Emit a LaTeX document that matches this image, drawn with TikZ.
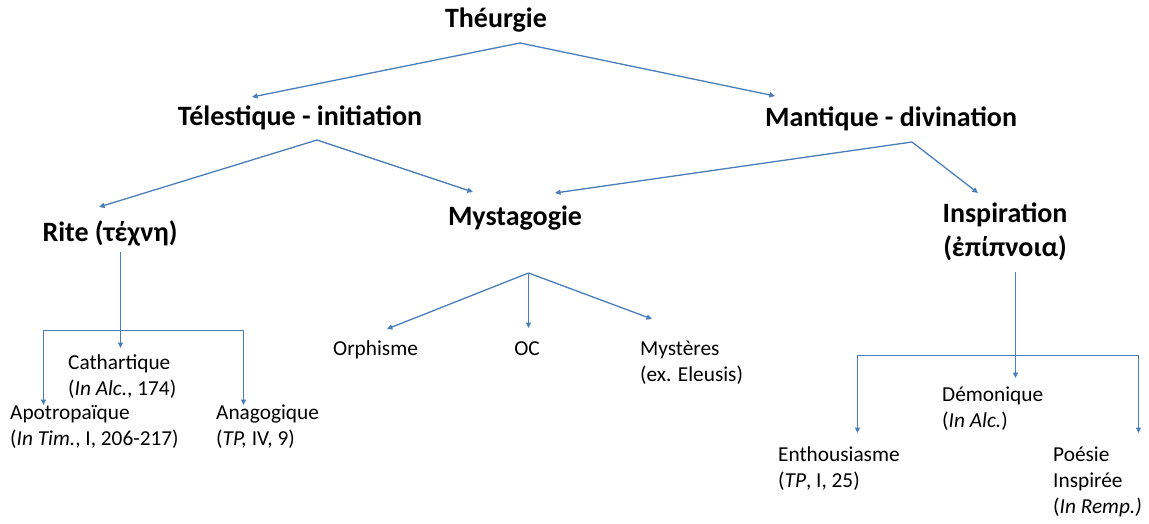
\documentclass[tikz,border=0pt]{standalone}
\usepackage{fontspec}
\setmainfont{Carlito}
\usetikzlibrary{arrows.meta}
\definecolor{conn}{RGB}{74,126,187}
\begin{document}
\begin{tikzpicture}[x=1pt,y=-1pt,
  head/.style={font=\fontsize{28}{34}\selectfont\bfseries, inner sep=0pt, align=center},
  leaf/.style={font=\fontsize{21.3}{26}\selectfont, inner sep=0pt, align=left, anchor=north west},
  link/.style={draw=conn, line width=1.3pt, -{Triangle[length=5.5pt,width=5pt]}},
  link2/.style={draw=conn, line width=1.3pt, {Triangle[length=5.5pt,width=5pt]}-{Triangle[length=5.5pt,width=5pt]}}]
\useasboundingbox (0,0) rectangle (1149,523);
\fill[white] (0,0) rectangle (1149,523);
% headings
\node[head] (th) at (496,20) {Théurgie};
\node[head] (tel) at (300,118) {Télestique - initiation};
\node[head] (man) at (891,119) {Mantique - divination};
\node[head] (rite) at (110,233) {Rite (τέχνη)};
\node[head] (myst) at (515,218) {Mystagogie};
\node[head] (insp) at (1005,232) {Inspiration\\(ἐπίπνοια)};
% leaves
\node[leaf] (cath) at (68,355) {Cathartique\\(\textit{In Alc.}, 174)};
\node[leaf] (apo) at (10,405) {Apotropaïque\\(\textit{In Tim.}, I, 206-217)};
\node[leaf] (ana) at (216,405) {Anagogique\\(\textit{TP,} IV, 9)};
\node[leaf] (orph) at (333,341) {Orphisme};
\node[leaf, anchor=north] (oc) at (527,341) {OC};
\node[leaf] (mys) at (640,341) {Mystères\\(ex. Eleusis)};
\node[leaf] (demo) at (942,387) {Démonique\\(\textit{In Alc.})};
\node[leaf] (enth) at (778,447) {Enthousiasme\\(\textit{TP}, I, 25)};
\node[leaf] (poes) at (1053,447) {Poésie\\Inspirée\\(\textit{In Remp.)}};
% connector points
\coordinate (thB) at (520,43);
\coordinate (telTip) at (252,97);
\coordinate (manTip) at (775,96);
\coordinate (telB) at (317,140);
\coordinate (riteTip) at (99,207);
\coordinate (mystTipL) at (473,192);
\coordinate (manB) at (912,142);
\coordinate (mystTipR) at (555,193);
\coordinate (inspTip) at (978,193);
\coordinate (riteB) at (120.5,252);
\coordinate (cathTip) at (120.5,348);
\coordinate (riteBar) at (120.5,330.5);
\coordinate (apoTip) at (43.5,405);
\coordinate (anaTip) at (243.5,405);
\coordinate (mystB) at (528.5,273);
\coordinate (orphTip) at (387,329);
\coordinate (ocTip) at (528.5,328);
\coordinate (mysTip) at (652,319);
\coordinate (inspB) at (1015.5,272);
\coordinate (demoTip) at (1015.5,378);
\coordinate (inspBar) at (1015.5,355.5);
\coordinate (enthTip) at (857.5,433);
\coordinate (poesTip) at (1138.5,433);
% connectors
\draw[link] (thB) -- (telTip);
\draw[link] (thB) -- (manTip);
\draw[link] (telB) -- (riteTip);
\draw[link] (telB) -- (mystTipL);
\draw[link] (manB) -- (mystTipR);
\draw[link] (manB) -- (inspTip);
\draw[link] (riteB) -- (cathTip);
\draw[link2] (apoTip) |- (riteBar) -| (anaTip);
\draw[link] (mystB) -- (orphTip);
\draw[link] (mystB) -- (ocTip);
\draw[link] (mystB) -- (mysTip);
\draw[link] (inspB) -- (demoTip);
\draw[link2] (enthTip) |- (inspBar) -| (poesTip);
\end{tikzpicture}
\end{document}
